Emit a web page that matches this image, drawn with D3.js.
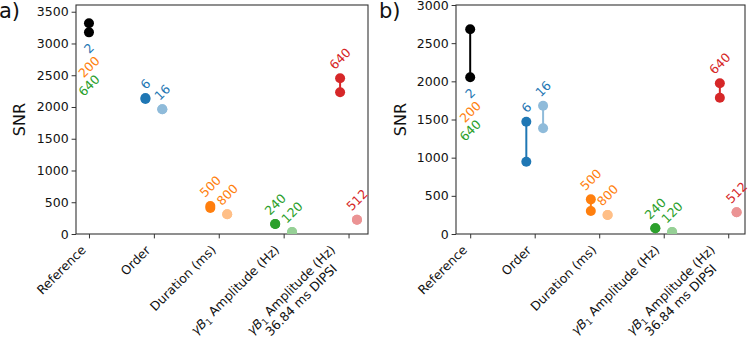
<!DOCTYPE html>
<html>
<head>
<meta charset="utf-8">
<script src="https://cdn.jsdelivr.net/npm/d3@7"></script>
<style>
  body { margin: 0; background: #fff; }
  svg { font-family: "DejaVu Sans", sans-serif; }
</style>
</head>
<body>
<svg id="chart" width="750" height="342"></svg>
<script>
// categories on the x axis ("|" splits a label into two lines)
const categories = ["Reference", "Order", "Duration (ms)", "γB1 Amplitude (Hz)", "γB1 Amplitude (Hz)|36.84 ms DIPSI"];

// one entry per plotted series
const seriesLabels   = ["", "6", "16", "500", "800", "240", "120", "640", "512"];
const seriesCategory = [0, 1, 1, 2, 2, 3, 3, 4, 4];

// labels written under the reference points (order, duration, amplitude)
const refLabels = ["2", "200", "640"];

// panel a) SNR, low and high value of each series
const snrLowA  = [3175, 2125, 1965, 410, 310, 157, 30, 2232, 225];
const snrHighA = [3320, 2140, 1965, 440, 310, 157, 30, 2452, 225];

// panel b)
const snrLowB  = [2053, 947, 1385, 301, 249, 75, 26, 1786, 284];
const snrHighB = [2682, 1471, 1681, 454, 249, 75, 26, 1975, 284];

const yTicksA = [0, 500, 1000, 1500, 2000, 2500, 3000, 3500];
const yTicksB = [0, 500, 1000, 1500, 2000, 2500, 3000];

const palette = ["#000000", "#1f77b4", "#ff7f0e", "#2ca02c", "#d62728"];
const lighten = col => d3.interpolateRgb(col, "#ffffff")(0.5);

const c = Math.SQRT1_2;
const svg = d3.select("#chart");

const panels = [
    {name: "a", left: 76, right: 368, top: 5, bottom: 234, yMax: 3606, xDomain: [-0.2, 4.3],
     low: snrLowA, high: snrHighA, yTicks: yTicksA, letterX: -1, snrX: 19},
    {name: "b", left: 456, right: 745, top: 5, bottom: 234, yMax: 3000, xDomain: [-0.22, 4.26],
     low: snrLowB, high: snrHighB, yTicks: yTicksB, letterX: 379, snrX: 400}
];

// write one line of a label; "γB1" becomes italic γB with subscript 1
function writeLine(text, line, first) {
    const t = text.append("tspan").attr("x", 0);
    if (!first) t.attr("dy", "1.18em");
    if (line.startsWith("γB1")) {
        t.text("γ").style("font-style", "italic");
        text.append("tspan").text("B").style("font-style", "italic");
        text.append("tspan").text("1").attr("font-size", "0.7em").attr("dy", "0.25em");
        text.append("tspan").text(line.slice(3)).attr("dy", "-0.25em");
    } else {
        t.text(line);
    }
}

function drawPanel(p) {
    const x = d3.scaleLinear().domain(p.xDomain).range([p.left, p.right]);
    const y = d3.scaleLinear().domain([0, p.yMax]).range([p.bottom, p.top]);
    const g = svg.append("g");

    g.append("clipPath").attr("id", "clip-" + p.name)
        .append("rect")
        .attr("x", p.left).attr("y", p.top)
        .attr("width", p.right - p.left).attr("height", p.bottom - p.top);

    // y axis
    const yAxis = g.append("g")
        .attr("transform", "translate(" + p.left + ",0)")
        .call(d3.axisLeft(y).tickValues(p.yTicks).tickSize(4.4).tickPadding(3).tickFormat(d3.format("d")));
    yAxis.select(".domain").remove();
    yAxis.selectAll("line").attr("stroke", "#333");
    yAxis.selectAll("text")
        .attr("font-size", 12.5)
        .attr("font-family", "DejaVu Sans, sans-serif")
        .attr("fill", "#111");

    // x axis ticks, labels drawn by hand below
    const xAxis = g.append("g")
        .attr("transform", "translate(0," + p.bottom + ")")
        .call(d3.axisBottom(x).tickValues(d3.range(categories.length)).tickSize(4.4).tickFormat(""));
    xAxis.select(".domain").remove();
    xAxis.selectAll("line").attr("stroke", "#333");

    const labelTop = p.bottom + 8;
    categories.forEach((cat, i) => {
        const lg = g.append("g");
        const text = lg.append("text")
            .attr("font-size", 12.5)
            .attr("fill", "#111")
            .attr("text-anchor", cat.includes("|") ? "middle" : "end");
        cat.split("|").forEach((line, k) => writeLine(text, line, k === 0));
        const b = text.node().getBBox();
        // rotated box: top-right corner goes to the tick
        const tx = x(i) - c * (b.x + b.width + b.y + b.height);
        const ty = labelTop - c * (b.y - b.x - b.width);
        lg.attr("transform", "translate(" + tx + "," + ty + ") rotate(-45)");
    });

    // frame
    g.append("rect")
        .attr("x", p.left).attr("y", p.top)
        .attr("width", p.right - p.left).attr("height", p.bottom - p.top)
        .attr("fill", "none").attr("stroke", "#333").attr("stroke-width", 1.1);

    // series
    const marks = g.append("g").attr("clip-path", "url(#clip-" + p.name + ")");
    const labels = g.append("g");
    seriesLabels.forEach((lab, i) => {
        const cat = seriesCategory[i];
        const members = seriesCategory.map((d, j) => j).filter(j => seriesCategory[j] === cat);
        const pos = members.indexOf(i);
        const off = members.length > 1 ? (pos === 0 ? -0.13 : 0.13) : 0;
        const col = pos === 1 ? lighten(palette[cat]) : palette[cat];
        const px = x(cat + off);

        marks.append("line")
            .attr("x1", px).attr("x2", px)
            .attr("y1", y(p.low[i])).attr("y2", y(p.high[i]))
            .attr("stroke", col).attr("stroke-width", 2);
        marks.selectAll(null)
            .data([p.low[i], p.high[i]])
            .enter().append("circle")
            .attr("cx", px).attr("cy", d => y(d))
            .attr("r", 5)
            .attr("fill", col);

        if (lab) {
            const lg = labels.append("g");
            const text = lg.append("text")
                .attr("font-size", 12.5)
                .attr("fill", palette[cat])
                .text(lab);
            const b = text.node().getBBox();
            const tx = px - c * (2 * b.x + b.width + 2 * b.y + b.height) / 2;
            const ty = y(p.high[i]) - 6 - c * (b.y + b.height - b.x);
            lg.attr("transform", "translate(" + tx + "," + ty + ") rotate(-45)");
        }
    });

    // labels under the reference points
    refLabels.forEach((lab, k) => {
        const cx = x(0);
        const cy = y(p.low[0]) + 16 + 18.5 * k;
        labels.append("text")
            .attr("transform", "translate(" + cx + "," + cy + ") rotate(-45)")
            .attr("text-anchor", "middle")
            .attr("dominant-baseline", "central")
            .attr("font-size", 12.5)
            .attr("fill", palette[k + 1])
            .text(lab);
    });

    // y label and panel letter
    g.append("text")
        .attr("transform", "translate(" + p.snrX + "," + ((p.top + p.bottom) / 2) + ") rotate(-90)")
        .attr("text-anchor", "middle")
        .attr("dominant-baseline", "central")
        .attr("font-size", 16)
        .attr("fill", "#111")
        .text("SNR");

    g.append("text")
        .attr("x", p.letterX).attr("y", 18)
        .attr("font-size", 21)
        .attr("fill", "#111")
        .text(p.name + ")");
}

panels.forEach(drawPanel);
</script>
</body>
</html>
